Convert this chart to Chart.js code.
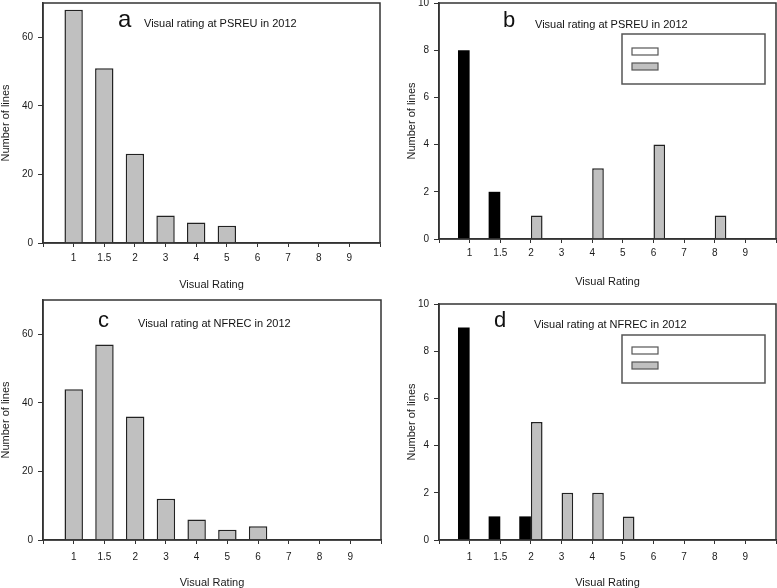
<!DOCTYPE html>
<html>
<head>
<meta charset="utf-8">
<script src="https://cdn.jsdelivr.net/npm/chart.js@4"></script>
<style>
  html, body { margin: 0; padding: 0; background: #fff; }
  #wrap { position: relative; width: 777px; height: 588px; overflow: hidden; }
  .panel { position: absolute; }
</style>
</head>
<body>
<div id="wrap">
  <div class="panel" style="left:0;top:0;width:390px;height:290px"><canvas id="chartA"></canvas></div>
  <div class="panel" style="left:390px;top:0;width:387px;height:290px"><canvas id="chartB"></canvas></div>
  <div class="panel" style="left:0;top:290px;width:390px;height:298px"><canvas id="chartC"></canvas></div>
  <div class="panel" style="left:390px;top:290px;width:387px;height:298px"><canvas id="chartD"></canvas></div>
</div>
<script>
// 데이터
const ratings = ['1', '1.5', '2', '3', '4', '5', '6', '7', '8', '9'];
const psreuAll = [68, 51, 26, 8, 6, 5, 0, 0, 0, 0];
const nfrecAll = [44, 57, 36, 12, 6, 3, 4, 0, 0, 0];
const psreuBlack = [8, 2, 0, 0, 0, 0, 0, 0, 0, 0];
const psreuGray = [0, 0, 1, 0, 3, 0, 4, 0, 1, 0];
const nfrecBlack = [9, 1, 1, 0, 0, 0, 0, 0, 0, 0];
const nfrecGray = [0, 0, 5, 2, 2, 1, 0, 0, 0, 0];

Chart.defaults.font.family = '"Liberation Sans", Arial, sans-serif';
Chart.defaults.color = '#1a1a1a';
Chart.defaults.animation = false;

const GRAY = '#c0c0c0';
const EDGE = '#222';

// 빈 칸을 양 끝에 붙임 (축 양쪽 여백)
const pad = arr => [null, ...arr, null];
const xLabels = ['', ...ratings, ''];

// 차트 영역 테두리
const framePlugin = {
    id: 'frame',
    afterDraw(chart) {
        const a = chart.chartArea;
        const ctx = chart.ctx;
        ctx.save();
        ctx.strokeStyle = '#333';
        ctx.lineWidth = 1.5;
        ctx.strokeRect(a.left, a.top, a.right - a.left, a.bottom - a.top);
        ctx.restore();
    }
};

// 패널 글자 + 제목, 범례 상자
const notePlugin = {
    id: 'note',
    afterDraw(chart, args, opts) {
        const a = chart.chartArea;
        const ctx = chart.ctx;
        ctx.save();
        ctx.fillStyle = '#111';
        ctx.textBaseline = 'alphabetic';
        ctx.textAlign = 'left';
        ctx.font = opts.letterSize + 'px "Liberation Sans", Arial, sans-serif';
        ctx.fillText(opts.letter, a.left + opts.letterX, a.top + opts.letterY);
        ctx.font = '11px "Liberation Sans", Arial, sans-serif';
        ctx.fillText(opts.text, a.left + opts.textX, a.top + opts.textY);
        if (opts.legend) {
            const L = opts.legend;
            ctx.strokeStyle = '#555';
            ctx.lineWidth = 1.5;
            ctx.strokeRect(a.left + L.x, a.top + L.y, L.w, L.h);
            ctx.lineWidth = 1.2;
            L.swatches.forEach((color, i) => {
                const sx = a.left + L.x + 10;
                const sy = a.top + L.y + L.sy + i * 15;
                ctx.fillStyle = color;
                ctx.fillRect(sx, sy, 26, 7);
                ctx.strokeRect(sx, sy, 26, 7);
            });
        }
        ctx.restore();
    }
};

function makeOptions(cfg) {
    return {
        responsive: true,
        maintainAspectRatio: false,
        devicePixelRatio: 1,
        layout: {
            padding: { top: cfg.padTop, right: cfg.padRight, left: cfg.padLeft, bottom: 0 }
        },
        plugins: {
            legend: { display: false },
            tooltip: { enabled: false },
            note: cfg.note
        },
        scales: {
            x: {
                type: 'category',
                offset: false,
                grid: {
                    offset: false,
                    drawOnChartArea: false,
                    tickLength: 4,
                    tickColor: '#333',
                    tickWidth: 1
                },
                border: { color: '#333', width: 1.5 },
                ticks: {
                    autoSkip: false,
                    maxRotation: 0,
                    padding: cfg.xTickPad,
                    font: { size: 10 }
                },
                title: {
                    display: true,
                    text: 'Visual Rating',
                    font: { size: 11, lineHeight: 1 },
                    padding: { top: 0, bottom: cfg.xTitlePad }
                },
                afterFit: s => {
                    s.height = cfg.xHeight;
                    s.paddingLeft = 0;
                    s.paddingRight = 0;
                }
            },
            y: {
                min: 0,
                max: cfg.yMax,
                grid: {
                    drawOnChartArea: false,
                    tickLength: 5,
                    tickColor: '#333',
                    tickWidth: 1
                },
                border: { color: '#333', width: 1.5 },
                ticks: {
                    stepSize: cfg.yStep,
                    padding: 5,
                    font: { size: 10 },
                    callback: v => (v % cfg.yStep === 0 ? v : null)
                },
                title: {
                    display: true,
                    text: 'Number of lines',
                    font: { size: 11, lineHeight: 1 },
                    padding: { top: 0, bottom: 0 }
                },
                afterFit: s => {
                    s.width = cfg.yWidth;
                    s.paddingTop = 0;
                    s.paddingBottom = 0;
                }
            }
        }
    };
}

function singleChart(id, values, cfg) {
    return new Chart(document.getElementById(id), {
        type: 'bar',
        data: {
            labels: xLabels,
            datasets: [{
                data: pad(values),
                backgroundColor: GRAY,
                borderColor: EDGE,
                borderWidth: 1.5,
                categoryPercentage: 0.6,
                barPercentage: 1.0
            }]
        },
        options: makeOptions(cfg),
        plugins: [framePlugin, notePlugin]
    });
}

function pairChart(id, black, gray, cfg) {
    return new Chart(document.getElementById(id), {
        type: 'bar',
        data: {
            labels: xLabels,
            datasets: [
                {
                    data: pad(black),
                    backgroundColor: '#000',
                    borderColor: '#000',
                    borderWidth: 0,
                    categoryPercentage: 0.76,
                    barPercentage: 1.0
                },
                {
                    data: pad(gray),
                    backgroundColor: GRAY,
                    borderColor: EDGE,
                    borderWidth: 1.5,
                    categoryPercentage: 0.76,
                    barPercentage: 1.0
                }
            ]
        },
        options: makeOptions(cfg),
        plugins: [framePlugin, notePlugin]
    });
}

singleChart('chartA', psreuAll, {
    padTop: 3, padRight: 10, padLeft: 0, yWidth: 43, xHeight: 47,
    xTickPad: 5, xTitlePad: 0, yMax: 70, yStep: 20,
    note: { letter: 'a', letterSize: 24, letterX: 75, letterY: 24,
            text: 'Visual rating at PSREU in 2012', textX: 101, textY: 24 }
});

pairChart('chartB', psreuBlack, psreuGray, {
    padTop: 3, padRight: 1, padLeft: 16, yWidth: 33, xHeight: 51,
    xTickPad: 4, xTitlePad: 3, yMax: 10, yStep: 2,
    note: { letter: 'b', letterSize: 22, letterX: 64, letterY: 24,
            text: 'Visual rating at PSREU in 2012', textX: 96, textY: 25,
            legend: { x: 183, y: 31, w: 143, h: 50, sy: 14, swatches: ['#fff', GRAY] } }
});

singleChart('chartC', nfrecAll, {
    padTop: 10, padRight: 9, padLeft: 0, yWidth: 43, xHeight: 48,
    xTickPad: 7, xTitlePad: 0, yMax: 70, yStep: 20,
    note: { letter: 'c', letterSize: 22, letterX: 55, letterY: 27,
            text: 'Visual rating at NFREC in 2012', textX: 95, textY: 27 }
});

pairChart('chartD', nfrecBlack, nfrecGray, {
    padTop: 14, padRight: 1, padLeft: 16, yWidth: 33, xHeight: 48,
    xTickPad: 7, xTitlePad: 0, yMax: 10, yStep: 2,
    note: { letter: 'd', letterSize: 22, letterX: 55, letterY: 23,
            text: 'Visual rating at NFREC in 2012', textX: 95, textY: 24,
            legend: { x: 183, y: 31, w: 143, h: 48, sy: 12, swatches: ['#fff', GRAY] } }
});
</script>
</body>
</html>
